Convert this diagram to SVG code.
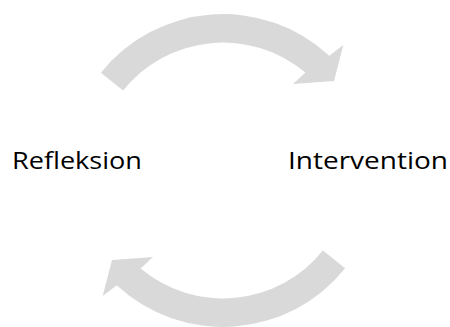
<svg xmlns="http://www.w3.org/2000/svg" width="450" height="327" viewBox="0 0 450 327">
<style>
.arrow{fill:#d9d9d9;stroke:none}
.lbl{font-family:"Open Sans","Liberation Sans",sans-serif;font-size:24px;fill:#000}
</style>
<rect width="450" height="327" fill="#fff"/>
<g id="connectors">
<path id="arrow-top" class="arrow" d="M100.9,72.7 A156.5,156.5 0 0 1 329.3,55.7 L343.3,45 L334,81 L293,84 L305.4,72.6 A128,128 0 0 0 123.1,90.5 Z"/>
<path id="arrow-bottom" class="arrow" d="M345.1,268.3 A156.5,156.5 0 0 1 116.7,285.3 L102.7,296 L112,260 L153,257 L140.6,268.4 A128,128 0 0 0 322.9,250.5 Z"/>
</g>
<g id="node-refleksion">
<text class="lbl" x="12" y="169" textLength="130" lengthAdjust="spacingAndGlyphs">Refleksion</text>
</g>
<g id="node-intervention">
<text class="lbl" x="288" y="169" textLength="160" lengthAdjust="spacingAndGlyphs">Intervention</text>
</g>
</svg>
